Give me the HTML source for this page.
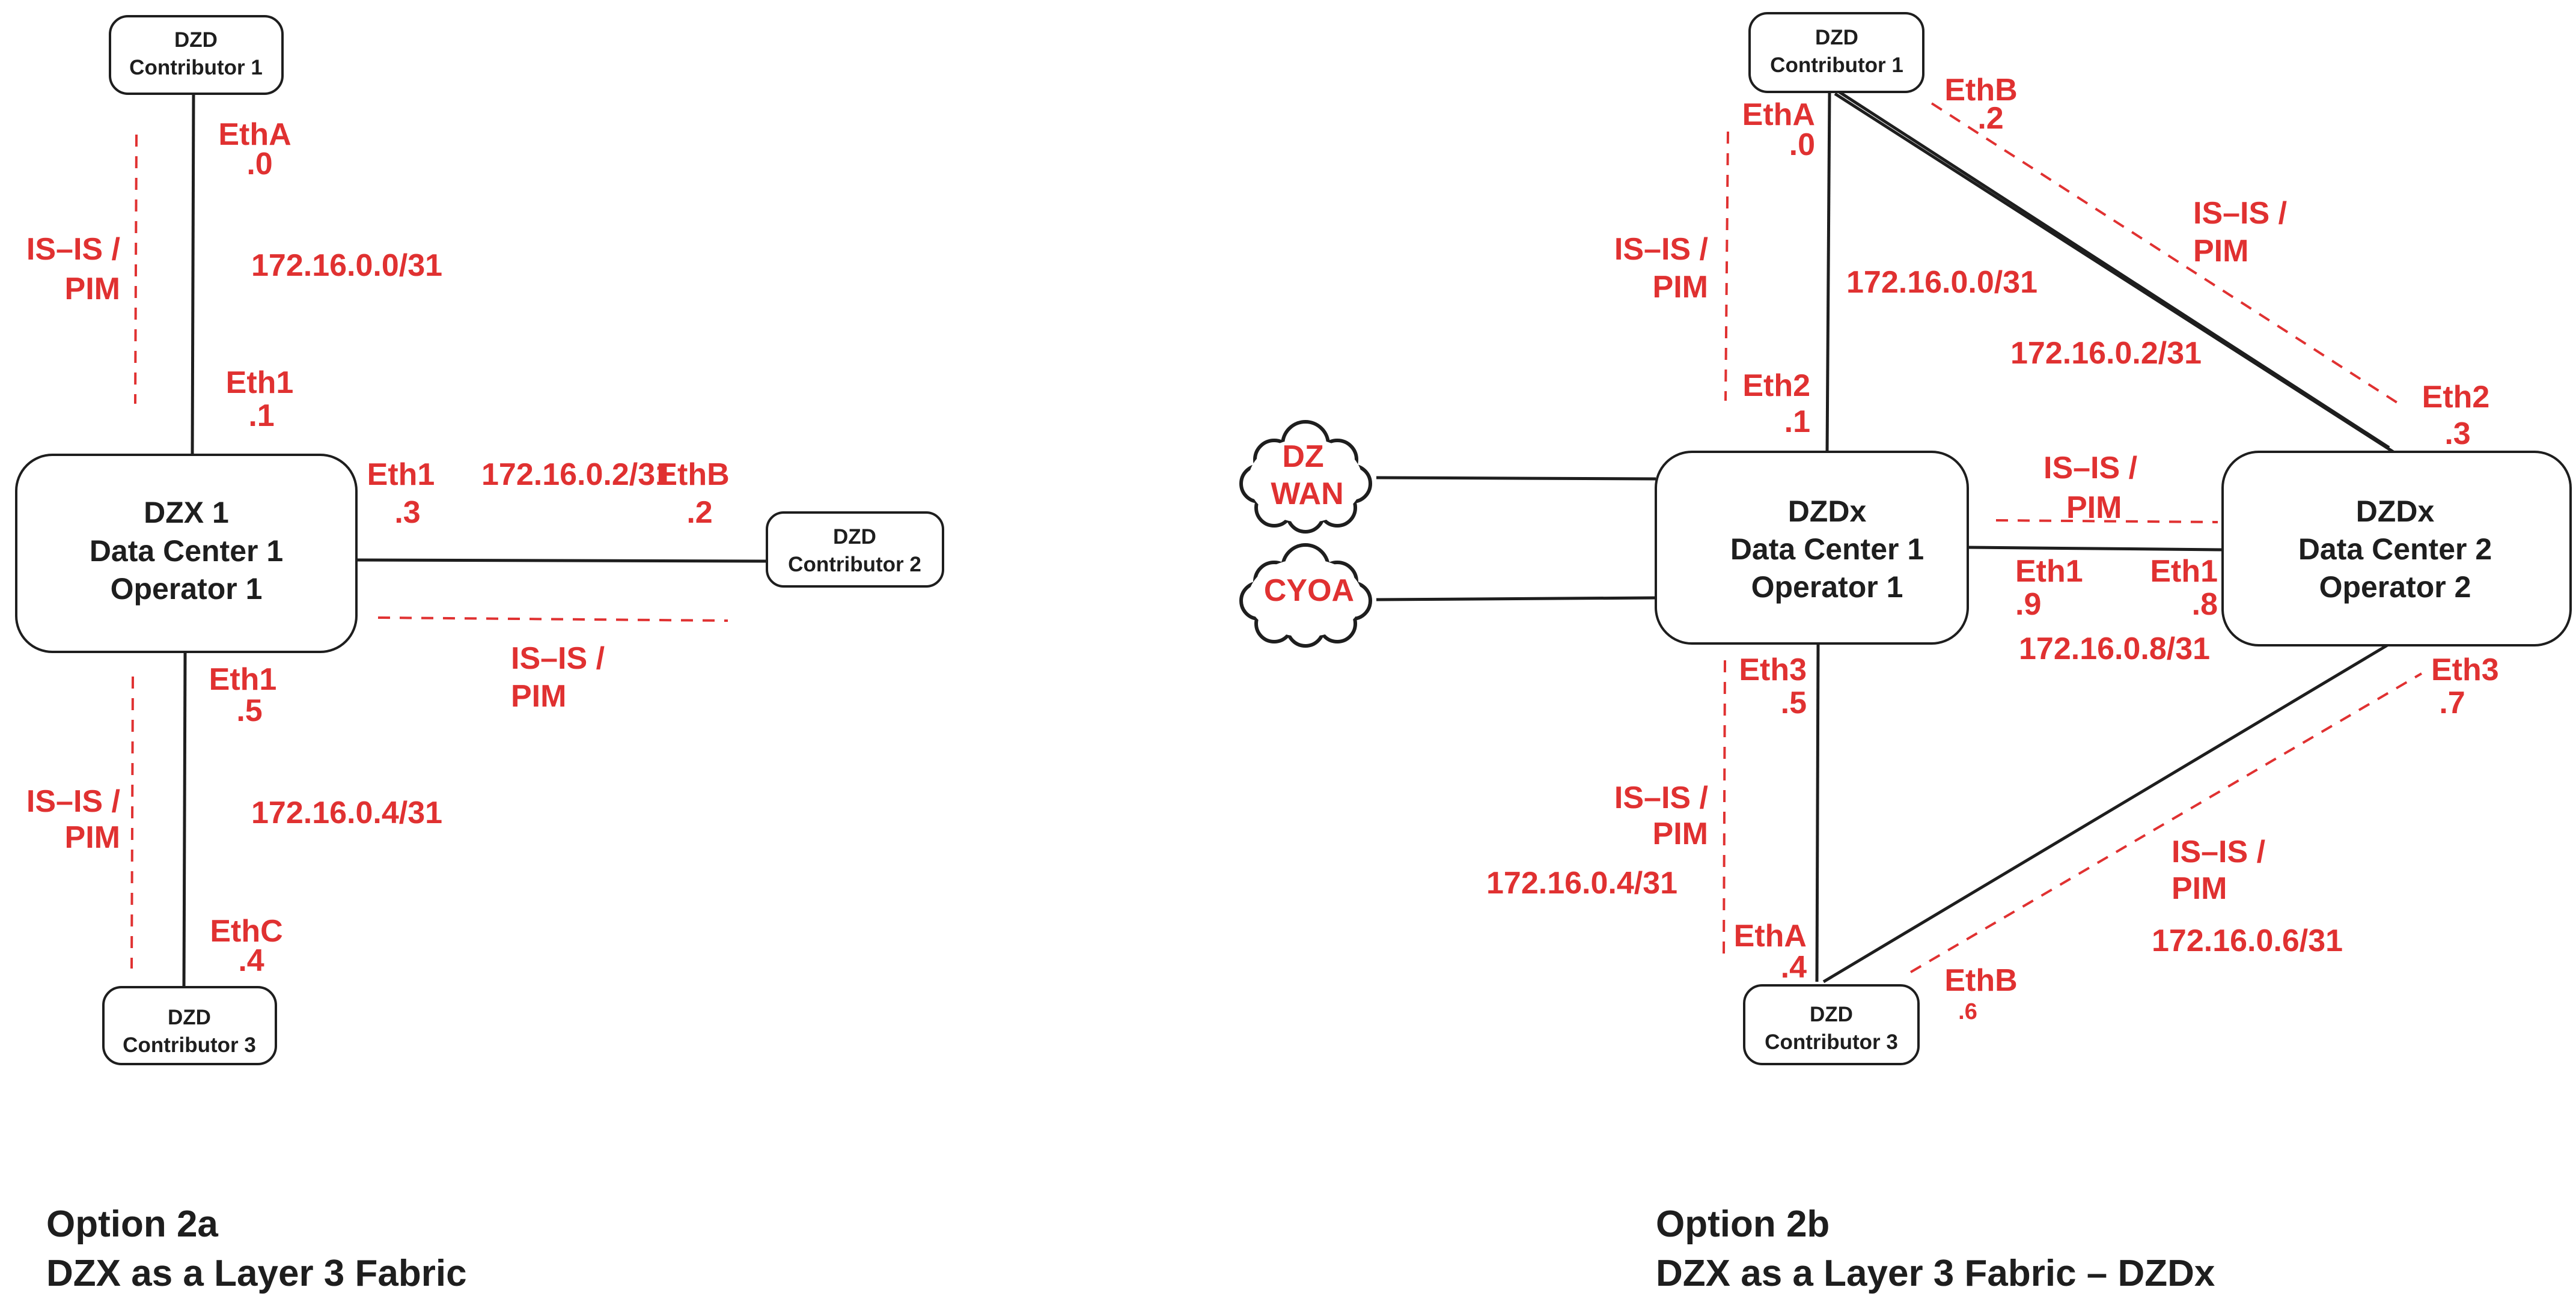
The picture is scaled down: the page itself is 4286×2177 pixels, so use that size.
<!DOCTYPE html>
<html><head><meta charset="utf-8"><style>
html,body{margin:0;padding:0;background:#fff;}
svg{display:block;}
text{font-family:"Liberation Sans",sans-serif;font-weight:bold;}
.r{fill:#e03131;font-size:52px;}
.b{fill:#1e1e1e;}
.box{fill:#fff;stroke:#1e1e1e;stroke-width:4;}
.ln{stroke:#1e1e1e;stroke-width:5;fill:none;}
.ds{stroke:#e03131;stroke-width:4;stroke-dasharray:20 16;fill:none;}
</style></head><body>
<svg width="4286" height="2177" viewBox="0 0 4286 2177" xmlns="http://www.w3.org/2000/svg">
<!-- LEFT DIAGRAM -->
<line class="ln" x1="322" y1="156" x2="320" y2="760"/>
<line class="ln" x1="593" y1="932" x2="1276" y2="934"/>
<line class="ln" x1="308" y1="1085" x2="306" y2="1643"/>
<line class="ds" x1="227" y1="224" x2="225" y2="672"/>
<line class="ds" x1="221" y1="1126" x2="219" y2="1612"/>
<line class="ds" x1="629" y1="1028" x2="1211" y2="1033"/>

<rect class="box" x="183" y="27" width="287" height="129" rx="30"/>
<text class="b" text-anchor="middle" font-size="35"><tspan x="326" y="78">DZD</tspan><tspan x="326" y="124">Contributor 1</tspan></text>
<rect class="box" x="27" y="757" width="566" height="328" rx="60"/>
<text class="b" text-anchor="middle" font-size="50"><tspan x="310" y="870">DZX 1</tspan><tspan x="310" y="934">Data Center 1</tspan><tspan x="310" y="997">Operator 1</tspan></text>
<rect class="box" x="1276" y="853" width="293" height="123" rx="28"/>
<text class="b" text-anchor="middle" font-size="35"><tspan x="1422" y="905">DZD</tspan><tspan x="1422" y="951">Contributor 2</tspan></text>
<rect class="box" x="172" y="1643" width="287" height="128" rx="30"/>
<text class="b" text-anchor="middle" font-size="35"><tspan x="315" y="1705">DZD</tspan><tspan x="315" y="1751">Contributor 3</tspan></text>

<g class="r" dominant-baseline="central">
<text x="424" y="224" text-anchor="middle">EthA</text>
<text x="432" y="273" text-anchor="middle">.0</text>
<text x="200" y="415" text-anchor="end">IS–IS /</text>
<text x="200" y="481" text-anchor="end">PIM</text>
<text x="418" y="442">172.16.0.0/31</text>
<text x="432" y="637" text-anchor="middle">Eth1</text>
<text x="435" y="692" text-anchor="middle">.1</text>
<text x="667" y="790" text-anchor="middle">Eth1</text>
<text x="678" y="853" text-anchor="middle">.3</text>
<text x="801" y="790">172.16.0.2/31</text>
<text x="1153" y="790" text-anchor="middle">EthB</text>
<text x="1164" y="853" text-anchor="middle">.2</text>
<text x="850" y="1096">IS–IS /</text>
<text x="850" y="1159">PIM</text>
<text x="404" y="1131" text-anchor="middle">Eth1</text>
<text x="415" y="1183" text-anchor="middle">.5</text>
<text x="200" y="1334" text-anchor="end">IS–IS /</text>
<text x="200" y="1394" text-anchor="end">PIM</text>
<text x="418" y="1353">172.16.0.4/31</text>
<text x="410" y="1550" text-anchor="middle">EthC</text>
<text x="418" y="1599" text-anchor="middle">.4</text>
</g>

<text class="b" font-size="62"><tspan x="77" y="2058">Option 2a</tspan><tspan x="77" y="2140">DZX as a Layer 3 Fabric</tspan></text>

<!-- RIGHT DIAGRAM -->
<line class="ln" x1="2290" y1="795" x2="2755" y2="797"/>
<line class="ln" x1="2290" y1="998" x2="2755" y2="995"/>
<line class="ln" x1="3044" y1="153" x2="3040" y2="752"/>
<line class="ln" x1="3053" y1="156" x2="3982" y2="752"/>
<line class="ln" stroke-width="3" x1="3060" y1="153" x2="3975" y2="745"/>
<line class="ln" x1="3274" y1="911" x2="3698" y2="915"/>
<line class="ln" x1="3025" y1="1071" x2="3023" y2="1634"/>
<line class="ln" x1="3034" y1="1634" x2="3977" y2="1071"/>
<line class="ds" x1="2875" y1="219" x2="2871" y2="667"/>
<line class="ds" x1="3214" y1="172" x2="3996" y2="675"/>
<line class="ds" x1="3321" y1="866" x2="3690" y2="869"/>
<line class="ds" x1="2870" y1="1099" x2="2868" y2="1593"/>
<line class="ds" x1="3179" y1="1618" x2="4029" y2="1121"/>

<!-- clouds -->
<g>
<g fill="#fff" stroke="#1e1e1e" stroke-width="6">
<circle cx="2172" cy="740" r="38"/><circle cx="2120" cy="765" r="32"/><circle cx="2225" cy="765" r="32"/>
<circle cx="2095" cy="805" r="30"/><circle cx="2250" cy="805" r="30"/>
<circle cx="2120" cy="845" r="30"/><circle cx="2225" cy="845" r="30"/><circle cx="2172" cy="855" r="30"/>
</g>
<ellipse cx="2172" cy="800" rx="95" ry="70" fill="#fff"/>
<g fill="#fff" stroke="#1e1e1e" stroke-width="6">
<circle cx="2172" cy="945" r="38"/><circle cx="2120" cy="968" r="32"/><circle cx="2225" cy="968" r="32"/>
<circle cx="2095" cy="1000" r="30"/><circle cx="2250" cy="1000" r="30"/>
<circle cx="2120" cy="1038" r="30"/><circle cx="2225" cy="1038" r="30"/><circle cx="2172" cy="1045" r="30"/>
</g>
<ellipse cx="2172" cy="995" rx="95" ry="65" fill="#fff"/>
</g>
<g class="r" dominant-baseline="central" text-anchor="middle">
<text x="2168" y="760">DZ</text>
<text x="2175" y="822">WAN</text>
<text x="2178" y="983">CYOA</text>
</g>

<rect class="box" x="2911" y="22" width="289" height="131" rx="30"/>
<text class="b" text-anchor="middle" font-size="35"><tspan x="3056" y="74">DZD</tspan><tspan x="3056" y="120">Contributor 1</tspan></text>
<rect class="box" x="2755" y="752" width="519" height="319" rx="60"/>
<text class="b" text-anchor="middle" font-size="50"><tspan x="3040" y="868">DZDx</tspan><tspan x="3040" y="931">Data Center 1</tspan><tspan x="3040" y="994">Operator 1</tspan></text>
<rect class="box" x="3698" y="752" width="579" height="322" rx="60"/>
<text class="b" text-anchor="middle" font-size="50"><tspan x="3985" y="868">DZDx</tspan><tspan x="3985" y="931">Data Center 2</tspan><tspan x="3985" y="994">Operator 2</tspan></text>
<rect class="box" x="2902" y="1640" width="290" height="131" rx="30"/>
<text class="b" text-anchor="middle" font-size="35"><tspan x="3047" y="1700">DZD</tspan><tspan x="3047" y="1746">Contributor 3</tspan></text>

<g class="r" dominant-baseline="central">
<text x="3296" y="150" text-anchor="middle">EthB</text>
<text x="3312" y="197" text-anchor="middle">.2</text>
<text x="3020" y="191" text-anchor="end">EthA</text>
<text x="3020" y="241" text-anchor="end">.0</text>
<text x="2842" y="415" text-anchor="end">IS–IS /</text>
<text x="2842" y="478" text-anchor="end">PIM</text>
<text x="3072" y="470">172.16.0.0/31</text>
<text x="3649" y="355">IS–IS /</text>
<text x="3649" y="418">PIM</text>
<text x="3345" y="588">172.16.0.2/31</text>
<text x="3012" y="642" text-anchor="end">Eth2</text>
<text x="3012" y="702" text-anchor="end">.1</text>
<text x="4086" y="661" text-anchor="middle">Eth2</text>
<text x="4089" y="722" text-anchor="middle">.3</text>
<text x="3400" y="779">IS–IS /</text>
<text x="3438" y="845">PIM</text>
<text x="3353" y="951">Eth1</text>
<text x="3353" y="1006">.9</text>
<text x="3690" y="951" text-anchor="end">Eth1</text>
<text x="3690" y="1006" text-anchor="end">.8</text>
<text x="3359" y="1080">172.16.0.8/31</text>
<text x="3006" y="1115" text-anchor="end">Eth3</text>
<text x="3006" y="1170" text-anchor="end">.5</text>
<text x="4045" y="1115">Eth3</text>
<text x="4080" y="1170" text-anchor="middle">.7</text>
<text x="2842" y="1328" text-anchor="end">IS–IS /</text>
<text x="2842" y="1388" text-anchor="end">PIM</text>
<text x="2473" y="1470">172.16.0.4/31</text>
<text x="3613" y="1418">IS–IS /</text>
<text x="3613" y="1479">PIM</text>
<text x="3580" y="1566">172.16.0.6/31</text>
<text x="3006" y="1558" text-anchor="end">EthA</text>
<text x="3006" y="1610" text-anchor="end">.4</text>
<text x="3296" y="1632" text-anchor="middle">EthB</text>
<text x="3274" y="1684" text-anchor="middle" font-size="38">.6</text>
</g>

<text class="b" font-size="62"><tspan x="2755" y="2058">Option 2b</tspan><tspan x="2755" y="2140">DZX as a Layer 3 Fabric – DZDx</tspan></text>
</svg>
</body></html>
